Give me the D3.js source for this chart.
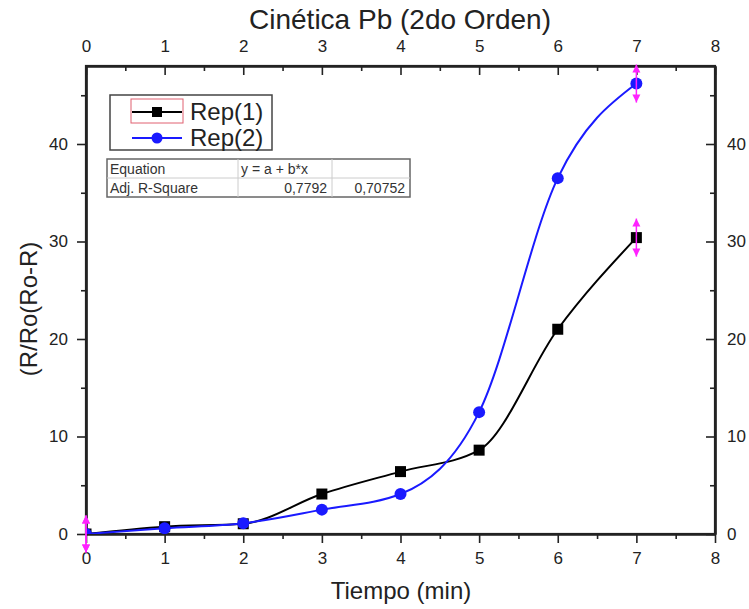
<!DOCTYPE html>
<html><head><meta charset="utf-8">
<script src="https://cdn.jsdelivr.net/npm/d3@7"></script>
<style>body{margin:0;background:#fff;}svg{display:block;font-family:"Liberation Sans",Arial,sans-serif;}</style>
</head><body>
<script>
const times = [0, 1, 2, 3, 4, 5, 6, 7];
const rep1 = [0, 0.75, 1.05, 4.1, 6.4, 8.6, 21.0, 30.4];
const rep2 = [0, 0.6, 1.1, 2.5, 4.1, 12.5, 36.5, 46.2];
const err1 = [1.9, 0, 0, 0, 0, 0, 0, 1.95];
const err2 = [1.9, 0, 0, 0, 0, 0, 0, 1.95];
const xTicks = [0, 1, 2, 3, 4, 5, 6, 7, 8];
const yTicks = [0, 10, 20, 30, 40];
const seriesNames = ["Rep(1)", "Rep(2)"];
const tableRows = [["Equation", "y = a + b*x", ""], ["Adj. R-Square", "0,7792", "0,70752"]];

const W = 749, H = 609;
const L = 86, R = 715, T = 66, B = 534;
const svg = d3.select("body").append("svg").attr("width", W).attr("height", H);
const x = d3.scaleLinear().domain([0, 8]).range([L, R]);
const y = d3.scaleLinear().domain([0, 48]).range([B, T]);

svg.append("defs").append("clipPath").attr("id", "clip")
  .append("rect").attr("x", L).attr("y", T).attr("width", R - L).attr("height", B - T);

const minorX = d3.range(0.5, 8, 1);
const minorY = d3.range(5, 48, 10);
const axColor = "#222";

svg.append("g").attr("transform", `translate(0,${B})`)
  .call(d3.axisBottom(x).tickValues(xTicks).tickSize(9).tickSizeOuter(0).tickPadding(9));
svg.append("g").attr("transform", `translate(0,${B})`)
  .call(d3.axisBottom(x).tickValues(minorX).tickSize(5).tickSizeOuter(0).tickFormat(""));
svg.append("g").attr("transform", `translate(0,${T})`)
  .call(d3.axisTop(x).tickValues(xTicks).tickSize(-9).tickSizeOuter(0).tickPadding(14));
svg.append("g").attr("transform", `translate(0,${T})`)
  .call(d3.axisTop(x).tickValues(minorX).tickSize(-5).tickSizeOuter(0).tickFormat(""));
svg.append("g").attr("transform", `translate(${L},0)`)
  .call(d3.axisLeft(y).tickValues(yTicks).tickSize(9).tickSizeOuter(0).tickPadding(9));
svg.append("g").attr("transform", `translate(${L},0)`)
  .call(d3.axisLeft(y).tickValues(minorY).tickSize(5).tickSizeOuter(0).tickFormat(""));
svg.append("g").attr("transform", `translate(${R},0)`)
  .call(d3.axisRight(y).tickValues(yTicks).tickSize(-9).tickSizeOuter(0).tickPadding(12));
svg.append("g").attr("transform", `translate(${R},0)`)
  .call(d3.axisRight(y).tickValues(minorY).tickSize(-5).tickSizeOuter(0).tickFormat(""));

svg.selectAll(".domain").attr("stroke", axColor).attr("stroke-width", 2.2);
svg.selectAll(".tick line").attr("stroke", axColor).attr("stroke-width", 1.6);
svg.selectAll(".tick text").attr("font-size", 17).attr("fill", "#222")
  .attr("font-family", '"Liberation Sans",Arial,sans-serif');
svg.append("rect").attr("x", L).attr("y", T).attr("width", R - L).attr("height", B - T)
  .attr("fill", "none").attr("stroke", axColor).attr("stroke-width", 2.2);

svg.append("text").attr("x", 400).attr("y", 29).attr("text-anchor", "middle")
  .attr("font-size", 28).attr("fill", "#222").text("Cinética Pb (2do Orden)");
svg.append("text").attr("x", 401).attr("y", 599).attr("text-anchor", "middle")
  .attr("font-size", 24).attr("fill", "#222").text("Tiempo (min)");
svg.append("text").attr("transform", "translate(37,309) rotate(-90)").attr("text-anchor", "middle")
  .attr("font-size", 24).attr("fill", "#222").text("(R/Ro(Ro-R)");

const plot = svg.append("g").attr("clip-path", "url(#clip)");
const line = d3.line().x(d => x(d[0])).y(d => y(d[1])).curve(d3.curveMonotoneX);
const data1 = times.map((t, i) => [t, rep1[i]]);
const data2 = times.map((t, i) => [t, rep2[i]]);
const c1 = "#000", c2 = "#1a1aff";
plot.append("path").datum(data1).attr("d", line).attr("fill", "none").attr("stroke", c1).attr("stroke-width", 2);
plot.append("path").datum(data2).attr("d", line).attr("fill", "none").attr("stroke", c2).attr("stroke-width", 2);
plot.selectAll(".sq").data(data1).join("rect")
  .attr("x", d => x(d[0]) - 5.5).attr("y", d => y(d[1]) - 5.5).attr("width", 11).attr("height", 11).attr("fill", c1);
plot.selectAll(".ci").data(data2).join("circle")
  .attr("cx", d => x(d[0])).attr("cy", d => y(d[1])).attr("r", 6).attr("fill", c2);

const mag = "#ff22ff";
function errBar(xv, yv, e) {
  if (!e) return;
  const cx = x(xv), y0 = y(yv + e), y1 = y(yv - e);
  const g = svg.append("g");
  g.append("line").attr("x1", cx).attr("x2", cx).attr("y1", y0).attr("y2", y1)
    .attr("stroke", mag).attr("stroke-width", 1.5);
  g.append("path").attr("d", `M${cx},${y0} l-4,8 l8,0 z`).attr("fill", mag);
  g.append("path").attr("d", `M${cx},${y1} l-4,-8 l8,0 z`).attr("fill", mag);
}
times.forEach((t, i) => { errBar(t, rep1[i], err1[i]); errBar(t, rep2[i], err2[i]); });

const lg = svg.append("g");
lg.append("rect").attr("x", 110).attr("y", 95).attr("width", 162).attr("height", 55)
  .attr("fill", "#fff").attr("stroke", "#444").attr("stroke-width", 1.5);
lg.append("rect").attr("x", 131).attr("y", 99).attr("width", 52).attr("height", 24)
  .attr("fill", "none").attr("stroke", "#e06070").attr("stroke-width", 1);
[[112, c1, "sq"], [138, c2, "ci"]].forEach((r, i) => {
  lg.append("line").attr("x1", 132).attr("x2", 182).attr("y1", r[0]).attr("y2", r[0])
    .attr("stroke", r[1]).attr("stroke-width", 2);
  if (r[2] === "sq") lg.append("rect").attr("x", 152).attr("y", r[0] - 5).attr("width", 10).attr("height", 10).attr("fill", r[1]);
  else lg.append("circle").attr("cx", 157).attr("cy", r[0]).attr("r", 5.5).attr("fill", r[1]);
  lg.append("text").attr("x", 190).attr("y", r[0] + 8).attr("font-size", 24).attr("fill", "#222").text(seriesNames[i]);
});

const tb = svg.append("g");
const tx = 107, ty = 159, rowH = 19, colX = [107, 238, 332, 410];
tb.append("rect").attr("x", tx).attr("y", ty).attr("width", colX[3] - tx).attr("height", rowH * 2)
  .attr("fill", "#fff").attr("stroke", "#666").attr("stroke-width", 1.5);
tb.append("line").attr("x1", tx).attr("x2", colX[3]).attr("y1", ty + rowH).attr("y2", ty + rowH)
  .attr("stroke", "#ccc").attr("stroke-width", 1);
[colX[1], colX[2]].forEach(cx => tb.append("line").attr("x1", cx).attr("x2", cx).attr("y1", ty).attr("y2", ty + rowH * 2)
  .attr("stroke", "#ccc").attr("stroke-width", 1));
tableRows.forEach((row, ri) => {
  row.forEach((txt, ci) => {
    const t = tb.append("text").attr("y", ty + rowH * ri + 14.5).attr("font-size", 14).attr("fill", "#333").text(txt);
    if (ri === 1 && ci > 0) t.attr("x", colX[ci + 1] - 5).attr("text-anchor", "end");
    else t.attr("x", colX[ci] + 3);
  });
});
</script>
</body></html>
